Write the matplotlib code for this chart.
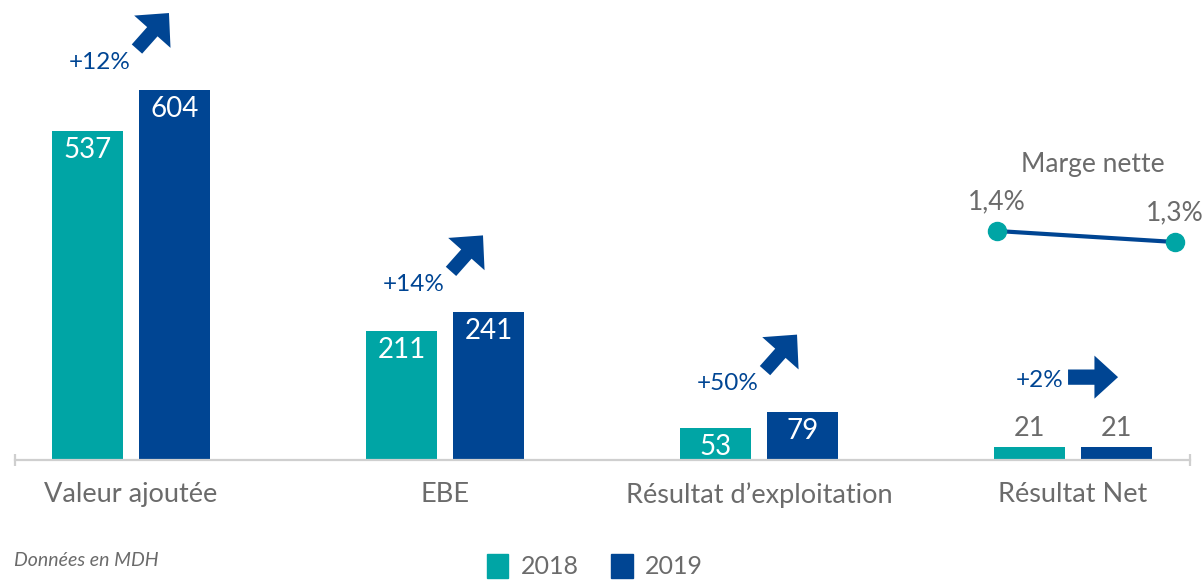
import matplotlib
matplotlib.use("Agg")
import numpy as np
import matplotlib.pyplot as plt
import matplotlib.patches as mpatches

# data
categories = ["Valeur ajoutée", "EBE", "Résultat d’exploitation", "Résultat Net"]
values_2018 = [537, 211, 53, 21]
values_2019 = [604, 241, 79, 21]
growth_labels = ["+12%", "+14%", "+50%", "+2%"]
growth_flat = [False, False, False, True]
margin_values = [1.4, 1.3]
margin_labels = ["1,4%", "1,3%"]
years = ["2018", "2019"]

TEAL = "#00a5a5"
NAVY = "#004593"
GREY = "#6b6b6b"
plt.rcParams["font.family"] = ["Lato", "DejaVu Sans"]

fig = plt.figure(figsize=(12.04, 5.83), dpi=100)
ax = fig.add_axes([0, 123 / 583, 1, 460 / 583])
ax.set_xlim(-0.417, 3.417)
ax.set_ylim(0, 751)

x = np.arange(len(categories))
w = 0.226
off = 0.1385
bars18 = ax.bar(x - off, values_2018, w, color=TEAL, label=years[0])
bars19 = ax.bar(x + off, values_2019, w, color=NAVY, label=years[1])

for spine in ["top", "right", "left"]:
    ax.spines[spine].set_visible(False)
ax.spines["bottom"].set_color("#cfcfcf")
ax.spines["bottom"].set_linewidth(1.6)
ax.spines["bottom"].set_bounds(-0.369, 3.373)
ax.set_yticks([])
ax.set_xticks(x, categories)
ax.set_xticks([-0.369, 3.373], minor=True)
ax.tick_params(axis="x", which="major", length=0, pad=16, labelsize=19.5, labelcolor=GREY)
ax.tick_params(axis="x", which="minor", length=9, width=1.6, direction="inout", color="#cfcfcf")

# value labels
for bars in (bars18, bars19):
    for rect in bars:
        h = rect.get_height()
        cx = rect.get_x() + rect.get_width() / 2
        if h < 30:
            ax.annotate(f"{h:.0f}", (cx, h), xytext=(0, 6), textcoords="offset pixels",
                        ha="center", va="bottom", color=GREY, fontsize=19.5)
        else:
            ax.annotate(f"{h:.0f}", (cx, h), xytext=(0, -19), textcoords="offset pixels",
                        ha="center", va="center", color="white", fontsize=20)

# growth arrows
fig.canvas.draw()
for i, (lbl, flat) in enumerate(zip(growth_labels, growth_flat)):
    bx, by = ax.transData.transform((x[i], values_2019[i]))
    if flat:
        tail = (bx - 5, by + 70)
        tip = (bx + 45, by + 70)
        txt = (bx - 33, by + 67)
        hw, hl, tw = 31, 17, 11
    else:
        tail = (bx + 6, by + 41)
        tip = (bx + 38, by + 77)
        txt = (bx - 31, by + 28)
        hw, hl, tw = 35, 18, 10
    ax.annotate("", xy=tip, xycoords="figure pixels", xytext=tail, textcoords="figure pixels",
                arrowprops=dict(arrowstyle=f"simple,head_width={hw},head_length={hl},tail_width={tw}",
                                color=NAVY, mutation_scale=1, shrinkA=0, shrinkB=0, lw=0))
    ax.annotate(lbl, xy=txt, xycoords="figure pixels", ha="center", va="center",
                color=NAVY, fontsize=17.5)

# marge nette line
ax2 = fig.add_axes([997 / 1204, (583 - 253) / 583, 178 / 1204, 33 / 583])
ax2.set_xlim(0, 1)
ax2.set_ylim(1.2, 1.5)
ax2.axis("off")
ax2.plot([0, 1], margin_values, color=NAVY, lw=3, marker="o", markersize=13,
         markerfacecolor=TEAL, markeredgecolor=TEAL, clip_on=False, zorder=3)
for xi, (v, t) in enumerate(zip(margin_values, margin_labels)):
    ax2.annotate(t, (xi, v), xytext=(0, 29), textcoords="offset pixels",
                 ha="center", va="center", color=GREY, fontsize=19)
fig.text(1093 / 1204, 1 - 165 / 583, "Marge nette", ha="center", va="center",
         color=GREY, fontsize=19)

# footer
fig.text(14 / 1204, 1 - 561 / 583, "Données en MDH", ha="left", va="center",
         color=GREY, fontsize=14, style="italic")
handles = [mpatches.Patch(color=TEAL, label=years[0]),
           mpatches.Patch(color=NAVY, label=years[1])]
leg = fig.legend(handles=handles, loc="center", bbox_to_anchor=(595 / 1204, 1 - 566 / 583),
                 ncol=2, frameon=False, fontsize=18, handlelength=0.85, handleheight=1.1,
                 handletextpad=0.5, columnspacing=1.3, borderaxespad=0)
for t in leg.get_texts():
    t.set_color(GREY)

fig.savefig("out.png", dpi=100)
